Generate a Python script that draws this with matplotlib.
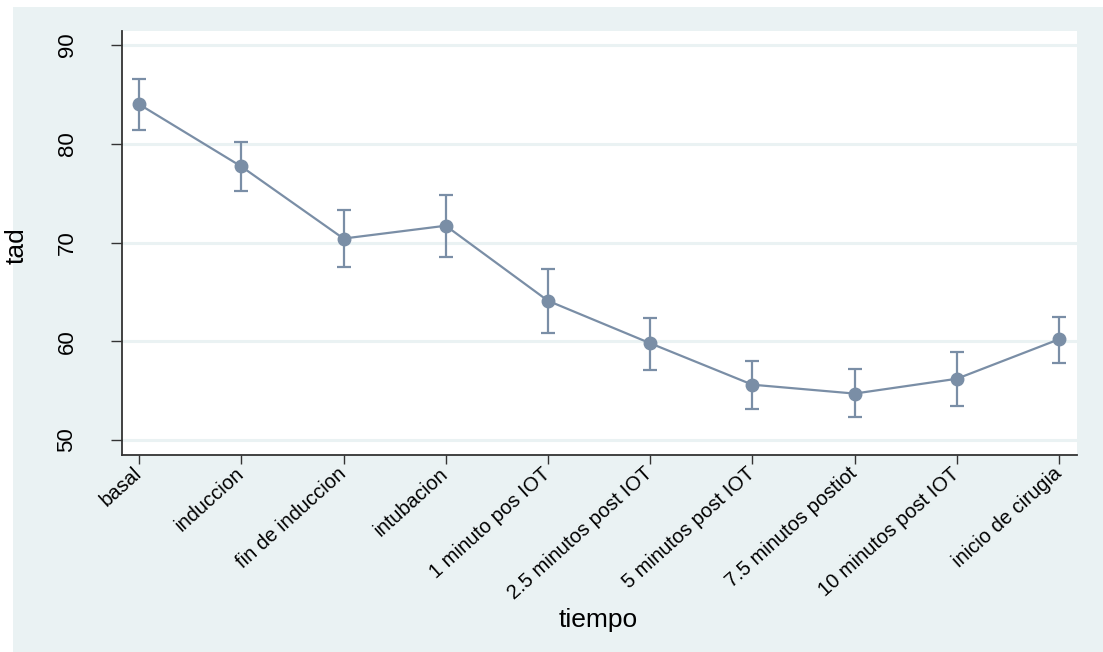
import numpy as np
import matplotlib.pyplot as plt
from matplotlib.patches import Rectangle

plt.rcParams['font.family'] = ['Liberation Sans', 'DejaVu Sans']

# data (mean and CI bounds of tad per time point)
tiempo = ["basal", "induccion", "fin de induccion", "intubacion",
          "1 minuto pos IOT", "2.5 minutos post IOT", "5 minutos post IOT",
          "7.5 minutos postiot", "10 minutos post IOT", "inicio de cirugia"]
tad_mean = [84.0, 77.7, 70.4, 71.7, 64.1, 59.8, 55.6, 54.7, 56.2, 60.2]
tad_hi = [86.6, 80.2, 73.3, 74.8, 67.3, 62.4, 58.0, 57.2, 58.9, 62.5]
tad_lo = [81.4, 75.2, 67.5, 68.5, 60.8, 57.1, 53.1, 52.3, 53.4, 57.8]
yticks = [50, 60, 70, 80, 90]

col = "#7a8ea6"
panel = "#eaf2f3"

fig = plt.figure(figsize=(11.03, 6.52), dpi=100)
fig.patch.set_facecolor("white")
# stata style background panel
fig.patches.append(Rectangle((13 / 1103, 0), 1 - 13 / 1103, 1 - 7 / 652,
                             transform=fig.transFigure, facecolor=panel,
                             edgecolor="none", zorder=-10))

ax = fig.add_axes([122 / 1103, 197 / 652, 955 / 1103, 424 / 652])
ax.set_facecolor("white")

x = np.arange(len(tiempo))
mean = np.array(tad_mean)
yerr = [mean - np.array(tad_lo), np.array(tad_hi) - mean]
ax.errorbar(x, mean, yerr=yerr, color=col, lw=1.6, marker="o", ms=9,
            ecolor=col, elinewidth=1.6, capsize=5, capthick=1.6, zorder=3)

ax.set_xlim(-0.167, 9.176)
ax.set_ylim(48.48, 91.42)
ax.set_yticks(yticks)
ax.set_yticklabels([str(v) for v in yticks], rotation=90, va="center", fontsize=16)
ax.set_xticks(x)
ax.set_xticklabels(tiempo, rotation=42, ha="right", va="center",
                   rotation_mode="anchor", fontsize=14.5)
ax.tick_params(axis="y", length=8, width=1, color="#333333", pad=24)
ax.tick_params(axis="x", length=6.5, width=1, color="#333333", pad=5)

ax.grid(axis="y", color=panel, lw=2.2)
ax.set_axisbelow(True)
for s in ["top", "right"]:
    ax.spines[s].set_visible(False)
for s in ["left", "bottom"]:
    ax.spines[s].set_color("#333333")
    ax.spines[s].set_linewidth(1.3)

ax.set_xlabel("tiempo", fontsize=19)
ax.set_ylabel("tad", fontsize=19)
ax.xaxis.set_label_coords(0.499, -0.36)
ax.yaxis.set_label_coords(-0.098, 0.493)

fig.savefig("out.png", dpi=100)
